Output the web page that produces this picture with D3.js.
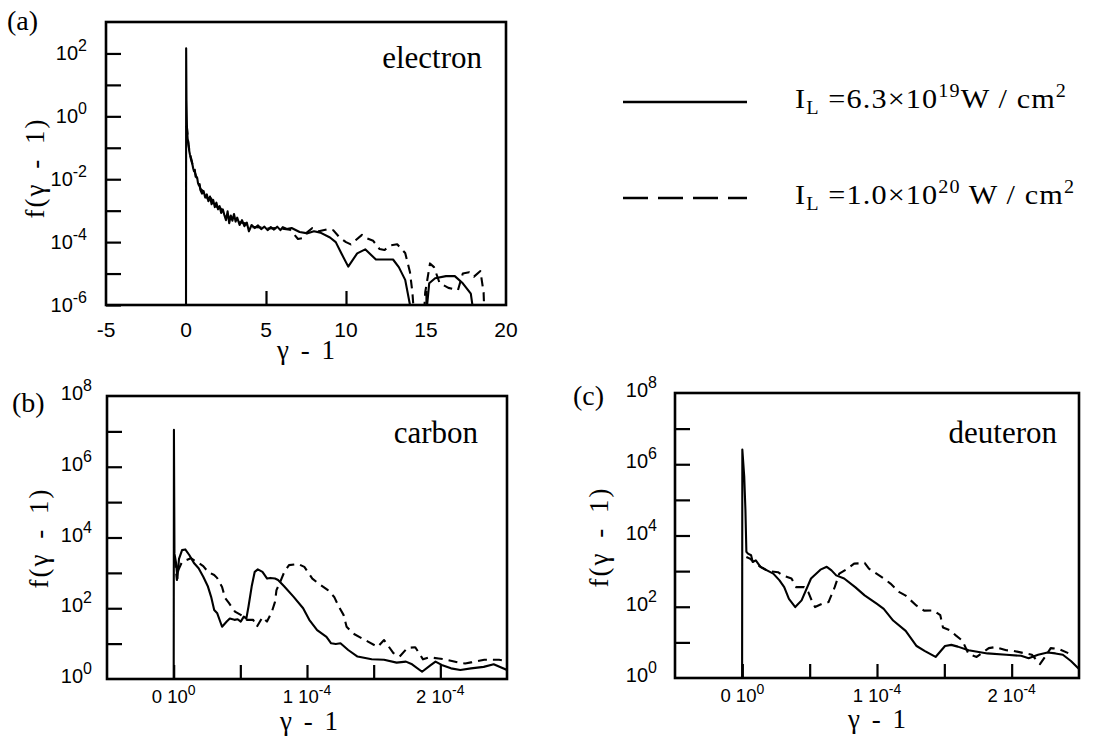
<!DOCTYPE html>
<html><head><meta charset="utf-8">
<script src="https://cdn.jsdelivr.net/npm/d3@7"></script>
<style>body{margin:0;background:#fff}svg{display:block}</style>
</head><body>
<svg id="chart" width="1112" height="740"></svg>
<script>
// ---------------- DATA ----------------
// (a) electron: gamma-1, f(gamma-1)
const electronSolidX = [0,0.01,0.03,0.06,0.1,0.15,0.2,0.25,0.3,0.35,0.4,0.45,0.5,0.55,0.6,0.64,0.7,0.75,0.8,0.85,0.9,1.0,1.1,1.2,1.3,1.4,1.5,1.6,1.7,1.8,1.9,2.0,2.1,2.2,2.3,2.4,2.5,2.6,2.7,2.8,2.9,3.0,3.1,3.2,3.35,3.5,3.65,3.8,3.93,4.1,4.3,4.5,4.7,4.9,5.1,5.3,5.5,5.7,5.9,6.05,6.3,6.6,7.1,7.6,8.0,8.4,9.0,9.36,9.7,10.14,10.7,11.2,11.87,12.94,13.3,13.7,14.0,14.2,14.9,15.07,15.2,15.57,16.25,16.8,17.3,17.8,17.9,18.0];
const electronSolidY = [1e-7,145,3.2,0.45,0.2,0.14,0.08,0.06,0.05,0.041,0.03,0.022,0.018,0.02,0.012,0.012,0.011,0.0075,0.0065,0.007,0.0045,0.0035,0.0042,0.0026,0.0033,0.0020,0.0028,0.0016,0.0022,0.0013,0.0018,0.0011,0.0014,0.00085,0.0011,0.00072,0.0005,0.00095,0.0004,0.0007,0.00048,0.00078,0.00045,0.0006,0.00035,0.0005,0.00032,0.00042,0.00022,0.00035,0.00028,0.00034,0.00026,0.00031,0.00024,0.0003,0.00025,0.00031,0.00024,0.0003,0.00026,0.00028,0.00021,0.00019,0.00022,0.0002,0.00014,0.0001,0.000045,0.0000166,0.000044,0.000059,0.000028,0.000028,0.000016,0.0000063,0.000001,1e-7,1e-7,1e-6,0.0000049,0.0000071,0.0000083,0.0000083,0.0000049,0.0000023,1e-6,1e-7];
const electronDashX = [0.02,0.06,0.15,0.3,0.5,0.7,0.9,1.15,1.35,1.55,1.75,1.95,2.15,2.35,2.55,2.75,2.95,3.15,3.4,3.7,4.0,4.4,4.8,5.2,5.6,6.0,6.5,7.0,7.3,7.55,7.9,8.3,8.9,9.2,9.6,10.0,10.3,10.6,11.0,11.25,11.7,12.1,12.4,12.8,13.2,13.7,14.0,14.15,14.35,14.8,14.95,15.25,15.5,15.85,16.4,17.0,17.3,17.7,18.0,18.4,18.6,18.7];
const electronDashY = [0.5,0.42,0.13,0.045,0.02,0.01,0.005,0.0038,0.0024,0.0025,0.0017,0.0013,0.0012,0.0009,0.00075,0.00055,0.0006,0.0005,0.00042,0.0004,0.0003,0.0003,0.00029,0.00027,0.00028,0.00027,0.00025,0.000126,0.000135,0.0002,0.00028,0.00022,0.00026,0.00024,0.00014,0.0001,0.000085,0.000115,0.00017,0.000135,0.00011,0.00006,0.000056,0.000079,0.000085,0.000045,0.000011,0.0000025,1e-7,1e-7,0.0000025,0.000021,0.000016,0.000005,0.0000035,0.000003,0.00001,0.000011,0.000008,0.000012,0.0000025,1e-7];

// (b) carbon
const carbonSolidX = [0,0.002e-4,0.006e-4,0.018e-4,0.028e-4,0.04e-4,0.063e-4,0.087e-4,0.117e-4,0.152e-4,0.187e-4,0.222e-4,0.257e-4,0.281e-4,0.304e-4,0.327e-4,0.363e-4,0.398e-4,0.421e-4,0.456e-4,0.48e-4,0.503e-4,0.526e-4,0.545e-4,0.561e-4,0.585e-4,0.608e-4,0.631e-4,0.666e-4,0.701e-4,0.725e-4,0.76e-4,0.783e-4,0.83e-4,0.9e-4,0.971e-4,1.017e-4,1.076e-4,1.146e-4,1.181e-4,1.216e-4,1.251e-4,1.309e-4,1.379e-4,1.485e-4,1.578e-4,1.672e-4,1.742e-4,1.788e-4,1.863e-4,1.93e-4,1.964e-4,2.01e-4,2.08e-4,2.15e-4,2.23e-4,2.325e-4,2.4e-4,2.5e-4];
const carbonSolidY = [0.1,1.1e7,3500,1900,700,2500,4400,4600,3200,1900,1350,780,410,210,89,72,30,42,51,47,49,42,58,51,110,410,1070,1260,1070,690,720,690,630,410,210,100,47,24,15.5,10.2,9.8,10.2,6.6,4.3,3.6,3.5,2.9,3.1,2.6,1.6,2.5,3.1,2.5,2.0,1.8,2.0,2.2,2.6,1.8];
const carbonDashX = [0.008e-4,0.024e-4,0.035e-4,0.059e-4,0.094e-4,0.129e-4,0.187e-4,0.222e-4,0.257e-4,0.304e-4,0.327e-4,0.363e-4,0.386e-4,0.414e-4,0.46e-4,0.503e-4,0.55e-4,0.596e-4,0.624e-4,0.666e-4,0.7e-4,0.736e-4,0.76e-4,0.771e-4,0.795e-4,0.83e-4,0.865e-4,0.935e-4,0.98e-4,1.04e-4,1.087e-4,1.157e-4,1.204e-4,1.239e-4,1.274e-4,1.297e-4,1.344e-4,1.414e-4,1.461e-4,1.53e-4,1.578e-4,1.648e-4,1.695e-4,1.753e-4,1.812e-4,1.87e-4,1.917e-4,1.987e-4,2.03e-4,2.14e-4,2.186e-4,2.23e-4,2.33e-4,2.44e-4,2.5e-4];
const carbonDashY = [2500,630,1200,1900,2300,2600,1900,1550,1070,870,710,400,195,141,80,65,47,47,30,56,42,79,151,324,513,1070,1660,1780,1480,690,500,324,209,110,65,30,19.5,14,11.2,8.1,12.6,5.4,4.3,7.6,7.9,3.6,4.1,3.8,3.6,2.9,2.75,2.95,3.5,3.5,3.2];

// (c) deuteron
const deuteronSolidX = [-0.002e-4,0,0.014e-4,0.023e-4,0.03e-4,0.042e-4,0.065e-4,0.077e-4,0.1e-4,0.136e-4,0.183e-4,0.23e-4,0.276e-4,0.311e-4,0.346e-4,0.393e-4,0.44e-4,0.51e-4,0.58e-4,0.627e-4,0.662e-4,0.697e-4,0.756e-4,0.838e-4,0.908e-4,1.0e-4,1.05e-4,1.12e-4,1.213e-4,1.294e-4,1.353e-4,1.435e-4,1.505e-4,1.552e-4,1.6e-4,1.68e-4,1.82e-4,1.96e-4,2.07e-4,2.126e-4,2.196e-4,2.266e-4,2.325e-4,2.38e-4,2.44e-4,2.5e-4];
const deuteronSolidY = [0.1,2.6e6,4.6e5,5.2e4,3500,3100,2800,1800,2000,1300,1050,850,550,355,166,98,151,620,1100,1320,1050,760,620,355,209,120,87,41,21,7.9,5.8,3.9,7.9,8.5,7.6,6.0,4.9,4.5,4.2,3.6,4.5,5.2,4.9,4.5,3.0,1.8];
const deuteronDashX = [0.03e-4,0.06e-4,0.1e-4,0.14e-4,0.19e-4,0.265e-4,0.3e-4,0.365e-4,0.4e-4,0.46e-4,0.49e-4,0.52e-4,0.54e-4,0.59e-4,0.64e-4,0.686e-4,0.72e-4,0.78e-4,0.83e-4,0.908e-4,0.94e-4,1.05e-4,1.1e-4,1.166e-4,1.21e-4,1.294e-4,1.35e-4,1.42e-4,1.47e-4,1.49e-4,1.54e-4,1.587e-4,1.634e-4,1.68e-4,1.74e-4,1.83e-4,1.88e-4,1.96e-4,2.01e-4,2.1e-4,2.15e-4,2.21e-4,2.245e-4,2.29e-4,2.35e-4,2.42e-4];
const deuteronDashY = [2500,2200,1600,1300,1000,930,760,620,355,355,257,135,98,120,135,355,850,1170,1620,1700,1170,620,447,257,209,107,78,79,58,26,22,15.5,11.2,4.7,3.9,6.9,7.4,6.0,5.8,4.9,4.5,2.45,3.8,6.9,6.5,5.0];

// axes ticks / labels
const electronXTicks = [-5,0,5,10,15,20];
const electronYTicks = [1e-6,1e-5,1e-4,1e-3,1e-2,1e-1,1,10,100];
const electronYLabelExp = [-6,-4,-2,0,2];
const ionXTicks = [0,0.5e-4,1e-4,1.5e-4,2e-4];
const ionXLabels = [{v:0, a:"0 10", e:"0"},{v:1e-4, a:"1 10", e:"-4"},{v:2e-4, a:"2 10", e:"-4"}];
const ionYTicks = [10,100,1e3,1e4,1e5,1e6,1e7];
const ionYLabelExp = [0,2,4,6,8];
const legendLabels = [
  {base:"6.3×10", exp:"19", unit:"W / cm", dash:false},
  {base:"1.0×10", exp:"20", unit:" W / cm", dash:true}
];

// ---------------- DRAW ----------------
const svg = d3.select("#chart");
svg.append("rect").attr("width",1112).attr("height",740).attr("fill","#fff");
const SERIF = "'Liberation Serif','Times New Roman',serif";
const SANS = "'Liberation Sans',Arial,Helvetica,sans-serif";
const defs = svg.append("defs");

function panel(cfg){
  const x = d3.scaleLinear().domain(cfg.xd).range([cfg.l, cfg.r]);
  const y = d3.scaleLog().domain(cfg.yd).range([cfg.b, cfg.t]);
  const g = svg.append("g");
  const cid = "clip-"+cfg.id;
  defs.append("clipPath").attr("id",cid).append("rect")
    .attr("x",cfg.l).attr("y",cfg.t).attr("width",cfg.r-cfg.l).attr("height",cfg.b-cfg.t);
  g.append("g").attr("transform",`translate(${cfg.l},0)`)
    .call(d3.axisLeft(y).tickValues(cfg.yTicks).tickSize(-15).tickFormat(""))
    .call(s=>{s.select(".domain").remove(); s.selectAll("line").attr("stroke","#000").attr("stroke-width",2.2);});
  g.append("g").attr("transform",`translate(0,${cfg.b})`)
    .call(d3.axisBottom(x).tickValues(cfg.xTicks).tickSize(-14).tickFormat(""))
    .call(s=>{s.select(".domain").remove(); s.selectAll("line").attr("stroke","#000").attr("stroke-width",2.2);});
  const line = d3.line().x(d=>x(d[0])).y(d=>y(d[1]));
  const cg = g.append("g").attr("clip-path",`url(#${cid})`);
  cfg.series.forEach(s=>{
    cg.append("path").datum(d3.zip(s.x, s.y)).attr("d",line)
      .attr("fill","none").attr("stroke","#000").attr("stroke-width",2.1)
      .attr("stroke-linejoin","round")
      .attr("stroke-dasharray", s.dash ? "9,6" : null);
  });
  g.append("rect").attr("x",cfg.l).attr("y",cfg.t).attr("width",cfg.r-cfg.l).attr("height",cfg.b-cfg.t)
    .attr("fill","none").attr("stroke","#000").attr("stroke-width",2.6);
  cfg.yLabelExp.forEach(e=>{
    const t = g.append("text").attr("x",cfg.l-cfg.ylabGap).attr("y",y(Math.pow(10,e))+cfg.ylabDy)
      .attr("text-anchor","end").attr("font-family",SANS).attr("font-size",20);
    t.append("tspan").text("10");
    t.append("tspan").attr("dy",-9).attr("font-size",16).text(String(e));
  });
  return {x,y,g};
}

function yTitle(cx, cy){
  svg.append("text").attr("transform",`translate(${cx},${cy}) rotate(-90)`)
    .attr("text-anchor","middle").attr("font-family",SERIF).attr("font-size",27)
    .attr("word-spacing",5).attr("letter-spacing",2).text("f(γ - 1)");
}
function xTitle(cx, by){
  svg.append("text").attr("x",cx).attr("y",by).attr("text-anchor","middle")
    .attr("font-family",SERIF).attr("font-size",27).attr("word-spacing",5).text("γ - 1");
}
function serifText(x,y,txt,size,anchor){
  svg.append("text").attr("x",x).attr("y",y).attr("text-anchor",anchor||"start")
    .attr("font-family",SERIF).attr("font-size",size).text(txt);
}

// Panel (a)
const pa = panel({id:"a", l:106, r:506, t:22, b:305, xd:[-5,20], yd:[1e-6,1e3],
  xTicks:[5,10,15], yTicks:electronYTicks, yLabelExp:electronYLabelExp, ylabGap:19, ylabDy:7,
  series:[{x:electronSolidX,y:electronSolidY,dash:false},{x:electronDashX,y:electronDashY,dash:true}]});
electronXTicks.forEach(v=>{
  svg.append("text").attr("x",pa.x(v)).attr("y",337).attr("text-anchor","middle")
    .attr("font-family",SANS).attr("font-size",21).text(String(v));
});
xTitle(306, 359);
yTitle(44, 168);
serifText(7, 30, "(a)", 28);
serifText(482, 68, "electron", 31, "end");

// Panel (b)
const pb = panel({id:"b", l:107, r:507, t:396, b:679, xd:[-0.5e-4,2.5e-4], yd:[1,1e8],
  xTicks:ionXTicks, yTicks:ionYTicks, yLabelExp:ionYLabelExp, ylabGap:15, ylabDy:4,
  series:[{x:carbonSolidX,y:carbonSolidY,dash:false},{x:carbonDashX,y:carbonDashY,dash:true}]});
// Panel (c)
const pc = panel({id:"c", l:675, r:1079, t:393, b:678, xd:[-0.5e-4,2.5e-4], yd:[1,1e8],
  xTicks:ionXTicks, yTicks:ionYTicks, yLabelExp:ionYLabelExp, ylabGap:18, ylabDy:4,
  series:[{x:deuteronSolidX,y:deuteronSolidY,dash:false},{x:deuteronDashX,y:deuteronDashY,dash:true}]});
[[pb,703],[pc,702]].forEach(([p,by])=>{
  ionXLabels.forEach(d=>{
    const t = svg.append("text").attr("x",p.x(d.v)).attr("y",by).attr("text-anchor","middle")
      .attr("font-family",SANS).attr("font-size",18.5);
    t.append("tspan").text(d.a);
    t.append("tspan").attr("dy",-8).attr("font-size",14).text(d.e);
  });
});
xTitle(309, 730); yTitle(48, 538);
xTitle(877, 728); yTitle(608, 537);
serifText(12, 412, "(b)", 28);
serifText(573, 405, "(c)", 28);
serifText(478, 443, "carbon", 31, "end");
serifText(1057, 443, "deuteron", 31, "end");

// Legend
const legY = [102, 198];
legendLabels.forEach((d,i)=>{
  svg.append("line").attr("x1",623).attr("x2",747).attr("y1",legY[i]).attr("y2",legY[i])
    .attr("stroke","#000").attr("stroke-width",2.5).attr("stroke-dasharray", d.dash ? "25,10" : null);
  const t = svg.append("g").attr("transform",`translate(795,${legY[i]+6}) scale(1.12,1)`)
    .append("text").attr("x",0).attr("y",0)
    .attr("font-family",SERIF).attr("font-size",27).attr("letter-spacing",1);
  t.append("tspan").text("I");
  t.append("tspan").attr("font-size",18).attr("dy",6).text("L");
  t.append("tspan").attr("dy",-6).text(" =" + d.base);
  t.append("tspan").attr("font-size",18).attr("dy",-11).text(d.exp);
  t.append("tspan").attr("dy",11).text(d.unit);
  t.append("tspan").attr("font-size",18).attr("dy",-11).text("2");
});
</script>
</body></html>
